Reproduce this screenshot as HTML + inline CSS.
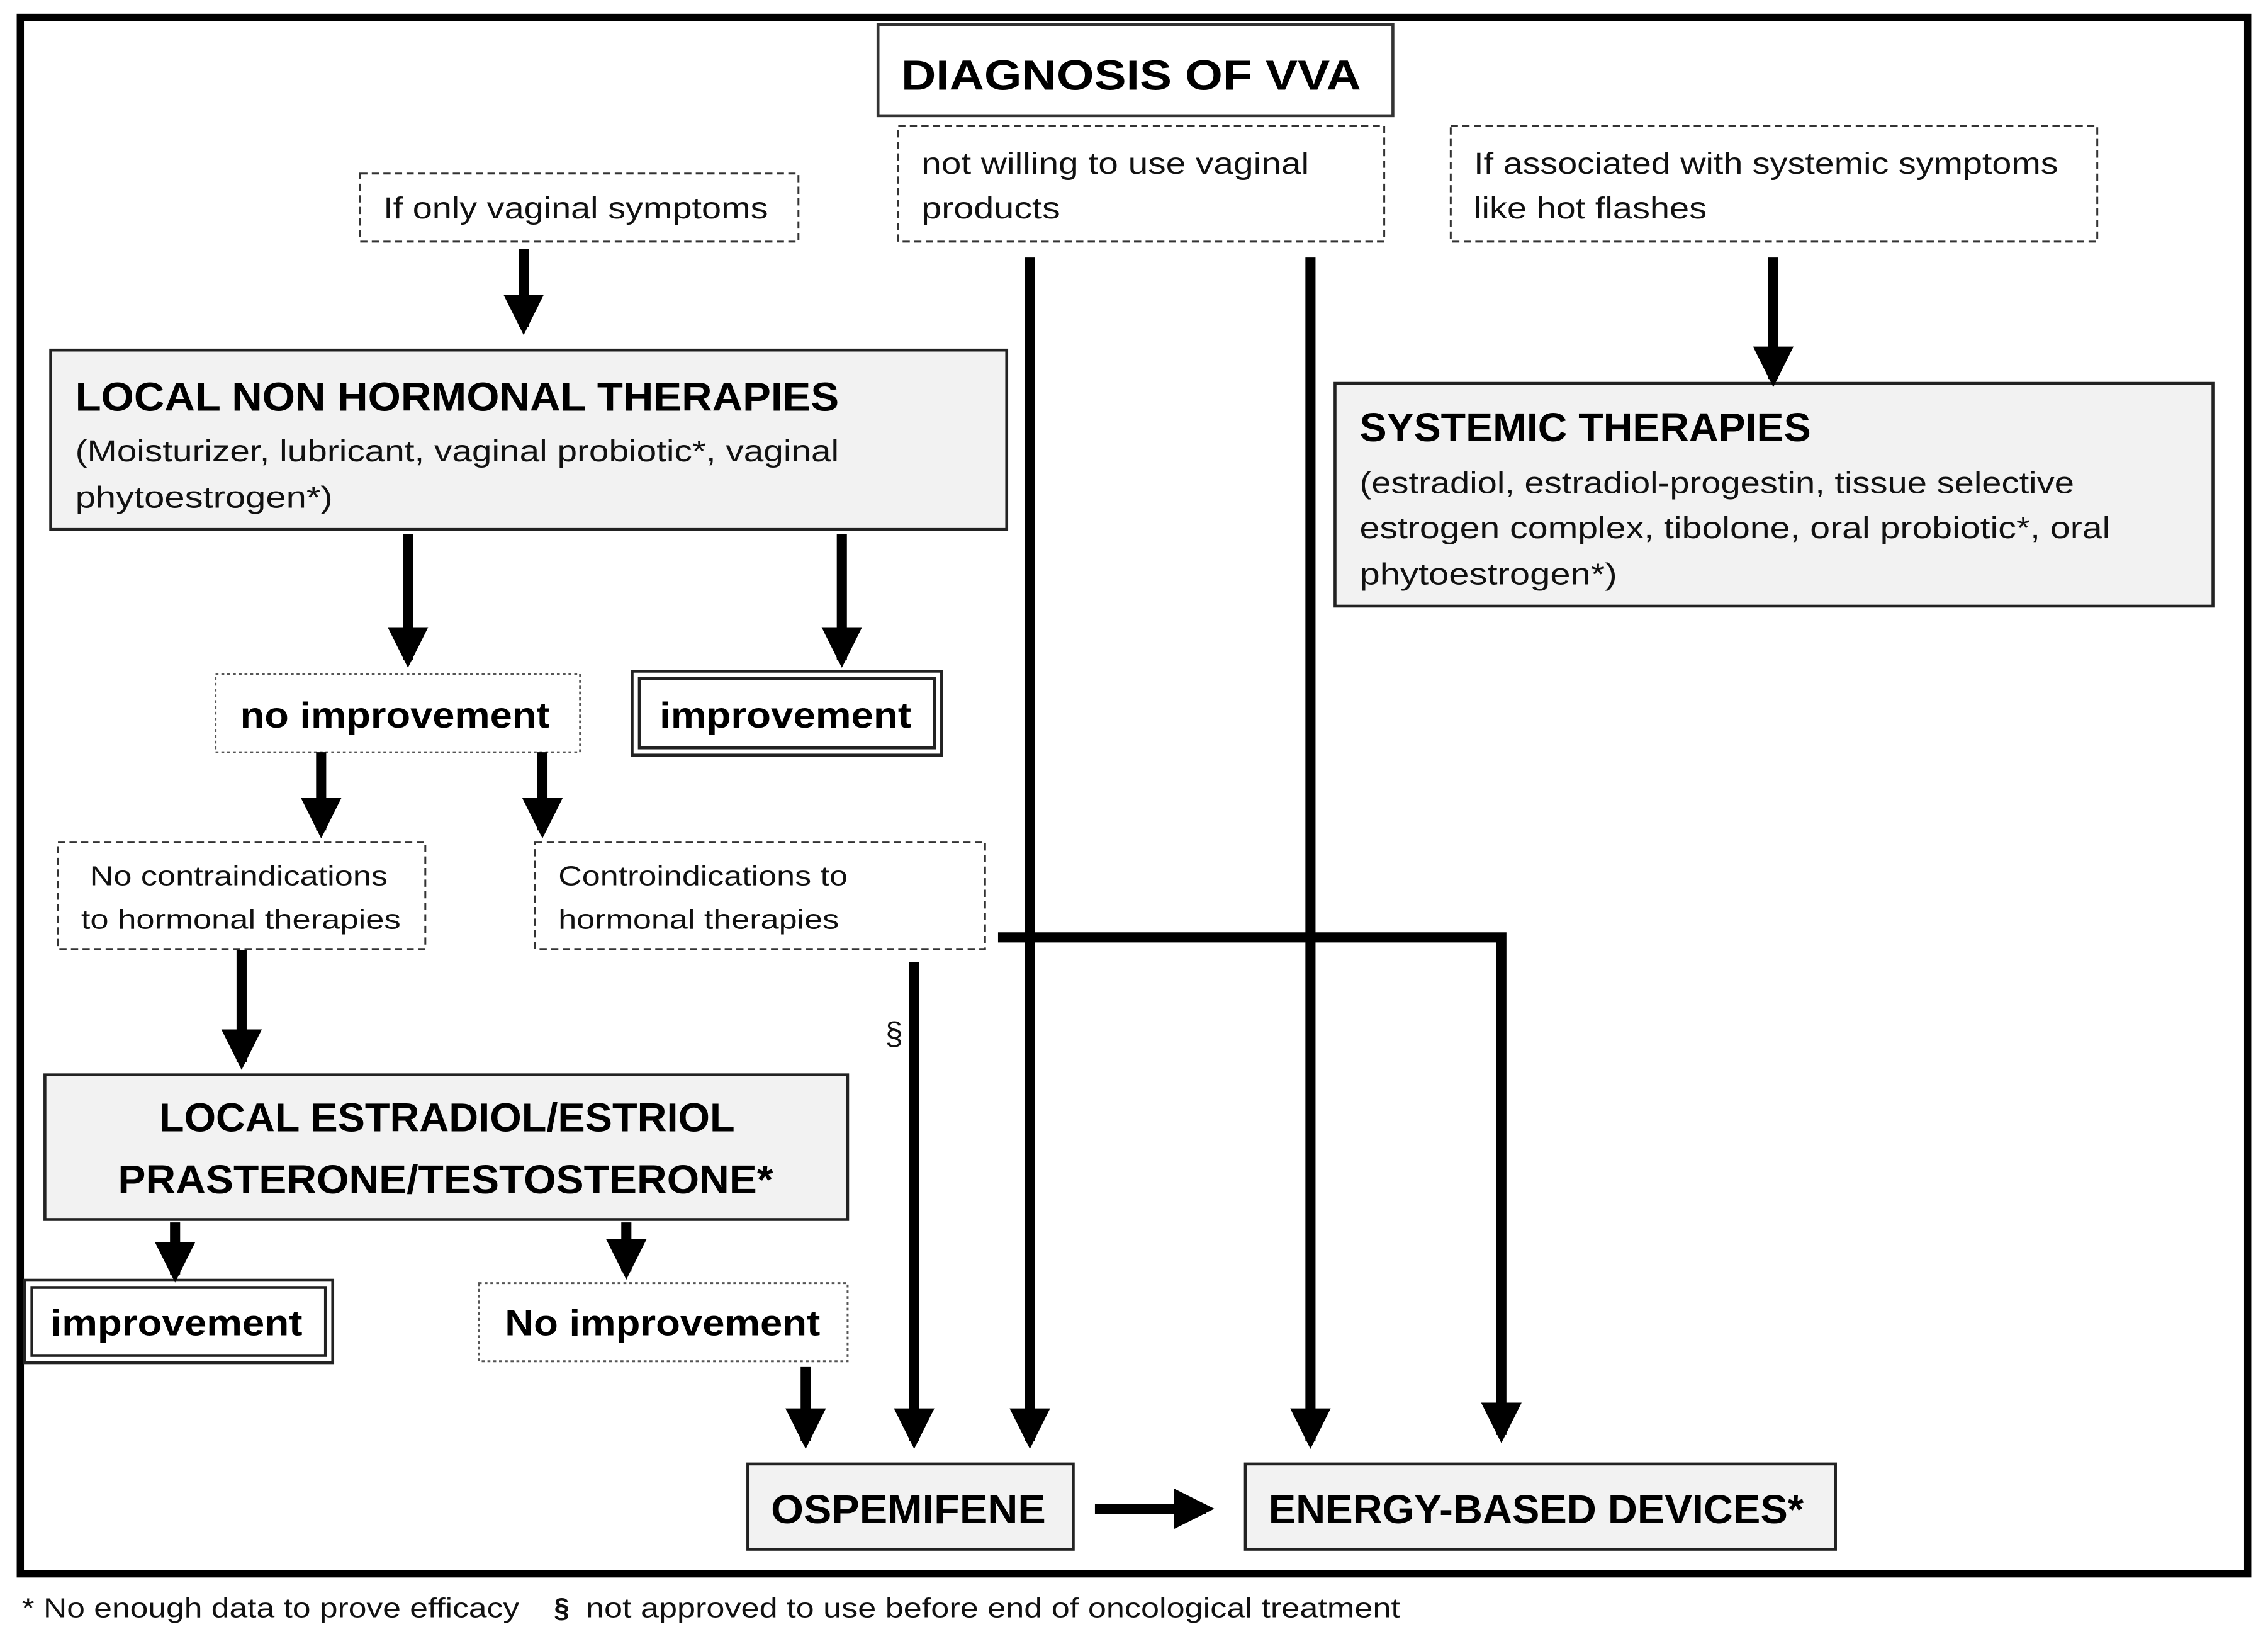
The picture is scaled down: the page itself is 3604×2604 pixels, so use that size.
<!DOCTYPE html>
<html><head><meta charset="utf-8"><style>html,body{margin:0;padding:0;background:#fff}svg{display:block}</style></head>
<body>
<svg xmlns="http://www.w3.org/2000/svg" width="3604" height="2604" viewBox="0 0 1568 1133" font-family="'Liberation Sans', sans-serif">
<defs>
<marker id="ah" markerWidth="4" markerHeight="4.4" refX="3.2" refY="2" orient="auto" markerUnits="strokeWidth"><path d="M0,0 L4,2 L0,4 Z" fill="#000"/></marker>
</defs>
<rect x="0" y="0" width="1568" height="1133" fill="#fff"/>
<rect x="14" y="12" width="1540" height="1076" fill="none" stroke="#000" stroke-width="5"/>

<rect x="607" y="17" width="356" height="63" fill="#fff" stroke="#333" stroke-width="2"/>
<text x="623" y="62" font-size="29" font-weight="bold" textLength="318" lengthAdjust="spacingAndGlyphs">DIAGNOSIS OF VVA</text>

<g fill="#fff" stroke="#333" stroke-width="1.3" stroke-dasharray="5,3">
<rect x="249" y="120" width="303" height="47"/>
<rect x="621" y="87" width="336" height="80"/>
<rect x="1003" y="87" width="447" height="80"/>
<rect x="40" y="582" width="254" height="74"/>
<rect x="370" y="582" width="311" height="74"/>
</g>
<g font-size="21" fill="#111">
<text x="265" y="151" textLength="266" lengthAdjust="spacingAndGlyphs">If only vaginal symptoms</text>
<text x="637" y="120" textLength="268" lengthAdjust="spacingAndGlyphs">not willing to use vaginal</text>
<text x="637" y="151" textLength="96" lengthAdjust="spacingAndGlyphs">products</text>
<text x="1019" y="120" textLength="404" lengthAdjust="spacingAndGlyphs">If associated with systemic symptoms</text>
<text x="1019" y="151" textLength="161" lengthAdjust="spacingAndGlyphs">like hot flashes</text>
</g>
<g font-size="19" fill="#111">
<text x="62" y="612" textLength="206" lengthAdjust="spacingAndGlyphs">No contraindications</text>
<text x="56" y="642" textLength="221" lengthAdjust="spacingAndGlyphs">to hormonal therapies</text>
<text x="386" y="612" textLength="200" lengthAdjust="spacingAndGlyphs">Controindications to</text>
<text x="386" y="642" textLength="194" lengthAdjust="spacingAndGlyphs">hormonal therapies</text>
</g>

<g fill="#f2f2f2" stroke="#222" stroke-width="2">
<rect x="35" y="242" width="661" height="124"/>
<rect x="923" y="265" width="607" height="154"/>
<rect x="31" y="743" width="555" height="100"/>
<rect x="517" y="1012" width="225" height="59"/>
<rect x="861" y="1012" width="408" height="59"/>
</g>
<text x="52" y="284" font-size="28" font-weight="bold" textLength="528" lengthAdjust="spacingAndGlyphs">LOCAL NON HORMONAL THERAPIES</text>
<g font-size="21" fill="#111">
<text x="52" y="319" textLength="528" lengthAdjust="spacingAndGlyphs">(Moisturizer, lubricant, vaginal probiotic*, vaginal</text>
<text x="52" y="351" textLength="178" lengthAdjust="spacingAndGlyphs">phytoestrogen*)</text>
</g>
<text x="940" y="305" font-size="28" font-weight="bold" textLength="312" lengthAdjust="spacingAndGlyphs">SYSTEMIC THERAPIES</text>
<g font-size="21" fill="#111">
<text x="940" y="341" textLength="494" lengthAdjust="spacingAndGlyphs">(estradiol, estradiol-progestin, tissue selective</text>
<text x="940" y="372" textLength="519" lengthAdjust="spacingAndGlyphs">estrogen complex, tibolone, oral probiotic*, oral</text>
<text x="940" y="404" textLength="178" lengthAdjust="spacingAndGlyphs">phytoestrogen*)</text>
</g>
<g font-size="28" font-weight="bold" text-anchor="middle">
<text x="309" y="782" textLength="398" lengthAdjust="spacingAndGlyphs">LOCAL ESTRADIOL/ESTRIOL</text>
<text x="308" y="825" textLength="453" lengthAdjust="spacingAndGlyphs">PRASTERONE/TESTOSTERONE*</text>
</g>
<text x="533" y="1053" font-size="28" font-weight="bold" textLength="190" lengthAdjust="spacingAndGlyphs">OSPEMIFENE</text>
<text x="877" y="1053" font-size="28" font-weight="bold" textLength="370" lengthAdjust="spacingAndGlyphs">ENERGY-BASED DEVICES*</text>

<g fill="#fff" stroke="#222">
<rect x="437" y="464" width="214" height="58" stroke-width="2"/>
<rect x="442" y="469" width="204" height="48" stroke-width="2"/>
<rect x="17" y="885" width="213" height="57" stroke-width="2"/>
<rect x="22" y="890" width="203" height="47" stroke-width="2"/>
</g>
<g fill="#fff" stroke="#555" stroke-width="1.3" stroke-dasharray="2,2">
<rect x="149" y="466" width="252" height="54"/>
<rect x="331" y="887" width="255" height="54"/>
</g>
<g font-size="25" font-weight="bold">
<text x="166" y="503" textLength="214" lengthAdjust="spacingAndGlyphs">no improvement</text>
<text x="456" y="503" textLength="174" lengthAdjust="spacingAndGlyphs">improvement</text>
<text x="35" y="923" textLength="174" lengthAdjust="spacingAndGlyphs">improvement</text>
<text x="349" y="923" textLength="218" lengthAdjust="spacingAndGlyphs">No improvement</text>
</g>

<g stroke="#000" stroke-width="7" marker-end="url(#ah)" fill="none">
<line x1="362" y1="172" x2="362" y2="226"/>
<line x1="1226" y1="178" x2="1226" y2="262"/>
<line x1="282" y1="369" x2="282" y2="456"/>
<line x1="582" y1="369" x2="582" y2="456"/>
<line x1="222" y1="520" x2="222" y2="574"/>
<line x1="375" y1="520" x2="375" y2="574"/>
<line x1="167" y1="657" x2="167" y2="734"/>
<line x1="121" y1="845" x2="121" y2="881"/>
<line x1="433" y1="845" x2="433" y2="879"/>
<line x1="557" y1="945" x2="557" y2="996"/>
<line x1="632" y1="665" x2="632" y2="996"/>
<line x1="712" y1="178" x2="712" y2="996"/>
<line x1="906" y1="178" x2="906" y2="996"/>
<line x1="757" y1="1043" x2="834" y2="1043"/>
<polyline points="690,648 1038,648 1038,992"/>
</g>
<text x="612" y="722" font-size="22" fill="#111">§</text>

<text x="15" y="1118" font-size="19" fill="#111" textLength="344" lengthAdjust="spacingAndGlyphs">* No enough data to prove efficacy</text>
<text x="383" y="1118" font-size="19" fill="#111" font-weight="bold">§</text>
<text x="405" y="1118" font-size="19" fill="#111" textLength="563" lengthAdjust="spacingAndGlyphs">not approved to use before end of oncological treatment</text>
</svg>
</body></html>
